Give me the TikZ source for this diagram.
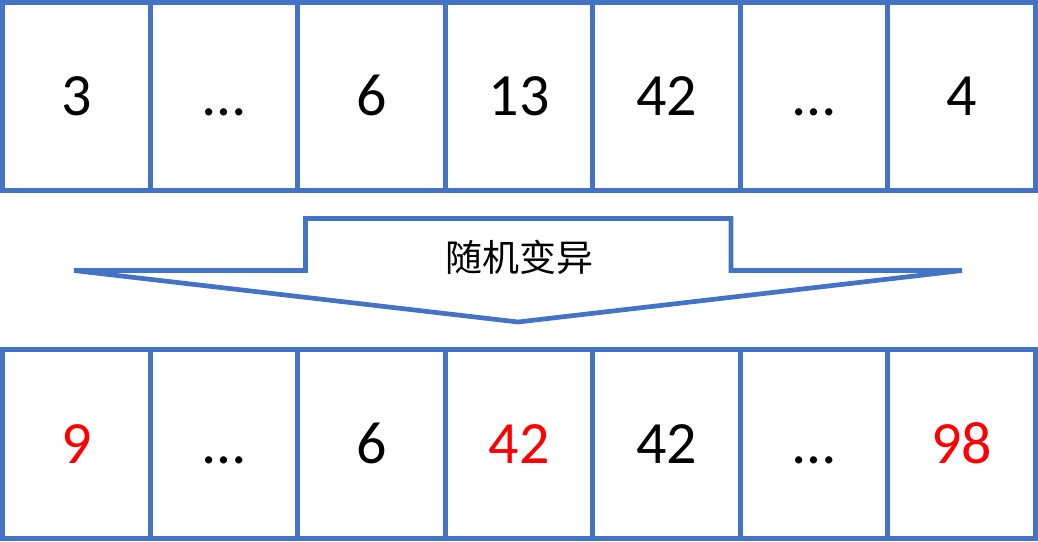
\documentclass[tikz,border=0pt]{standalone}
\usepackage{fontspec}
\setmainfont{Carlito}
\newfontfamily\cjkfont{Noto Sans CJK SC}
\definecolor{cellblue}{HTML}{4472C4}
\definecolor{hotred}{HTML}{FF0000}
\begin{document}
\begin{tikzpicture}[x=1pt,y=-1pt,
  cellbox/.style={draw=cellblue, line width=5pt, minimum width=147.57pt, inner sep=0pt,
     font=\fontsize{60}{72}\selectfont, text height=38pt, text depth=0pt},
  toprow/.style={cellbox, minimum height=188pt},
  botrow/.style={cellbox, minimum height=189pt},
  changed/.style={text=hotred}]
\useasboundingbox (0,0) rectangle (1038,541);
\fill[white] (0,0) rectangle (1038,541);
% top row
\foreach \i/\t in {0/3,1/…,2/6,3/13,4/42,5/…,6/4}{
  \node[toprow] (t\i) at ({2.5+147.57*(\i+0.5)},96.5) {\t};
}
% bottom row
\foreach \i/\t/\s in {0/9/changed,1/…/,2/6/,3/42/changed,4/42/,5/…/,6/98/changed}{
  \node[botrow,\s] (b\i) at ({2.5+147.57*(\i+0.5)},444) {\t};
}
% arrow
\draw[cellblue, line width=4.7pt, line join=miter]
  (305.5,218.5) -- (731,218.5) -- (731,270.5) -- (962,270.5) -- (518,322)
  -- (74,270.5) -- (305.5,270.5) -- cycle;
\node[font=\cjkfont\fontsize{37}{44}\selectfont, inner sep=0pt] (lbl) at (519,257.5) {随机变异};
\end{tikzpicture}
\end{document}
